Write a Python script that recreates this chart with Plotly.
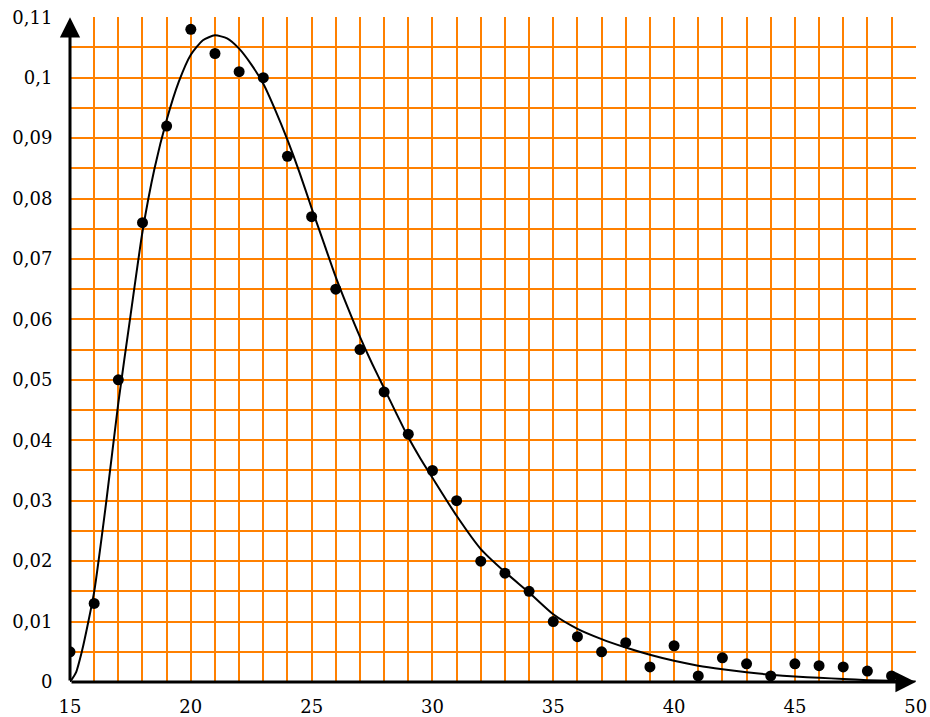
import plotly.graph_objects as go

# Observed points
obs_x = [15, 16, 17, 18, 19, 20, 21, 22, 23, 24, 25, 26, 27, 28, 29, 30, 31, 32,
         33, 34, 35, 36, 37, 38, 39, 40, 41, 42, 43, 44, 45, 46, 47, 48, 49]
obs_y = [0.005, 0.013, 0.050, 0.076, 0.092, 0.108, 0.104, 0.101, 0.100, 0.087,
         0.077, 0.065, 0.055, 0.048, 0.041, 0.035, 0.030, 0.020, 0.018, 0.015,
         0.010, 0.0075, 0.005, 0.0065, 0.0025, 0.006, 0.001, 0.004, 0.003, 0.001,
         0.003, 0.0027, 0.0025, 0.0018, 0.001]

# Fitted curve
curve_x = [15, 15.25, 15.5, 15.75, 16, 16.5, 17, 17.5, 18, 18.5, 19, 19.5, 20, 20.5,
           21, 21.5, 22, 22.5, 23, 23.5, 24, 24.5, 25, 25.5, 26, 26.5, 27, 27.5,
           28, 28.5, 29, 29.5, 30, 31, 32, 33, 34, 35, 36, 37, 38, 39, 40, 41, 42,
           43, 44, 45, 46, 47, 48, 49, 50]
curve_y = [0.0, 0.0016, 0.0052, 0.0098, 0.0149, 0.0298, 0.0462, 0.0605, 0.0745,
           0.0850, 0.0930, 0.0993, 0.1038, 0.1062, 0.1070, 0.1065, 0.1048, 0.1022,
           0.0990, 0.0946, 0.0897, 0.0843, 0.0784, 0.0727, 0.0670, 0.0619, 0.0571,
           0.0527, 0.0486, 0.0445, 0.0405, 0.0370, 0.0338, 0.0275, 0.0220, 0.0182,
           0.0148, 0.0112, 0.0088, 0.0071, 0.0057, 0.0045, 0.0035, 0.0027, 0.0021,
           0.0016, 0.0012, 0.0009, 0.0007, 0.0005, 0.0003, 0.0002, 0.0001]

x_tick_vals = [15, 20, 25, 30, 35, 40, 45, 50]
x_tick_text = ["15", "20", "25", "30", "35", "40", "45", "50"]
y_tick_vals = [0, 0.01, 0.02, 0.03, 0.04, 0.05, 0.06, 0.07, 0.08, 0.09, 0.10, 0.11]
y_tick_text = ["0", "0,01", "0,02", "0,03", "0,04", "0,05", "0,06", "0,07",
               "0,08", "0,09", "0,1", "0,11"]

ORANGE = "#ff8000"
X_MIN, X_MAX = 15, 50
Y_MIN, Y_MAX = 0, 0.11
X_PAD, Y_PAD = 0.012, 0.00004  # tiny padding so edge gridlines are drawn

fig = go.Figure()
fig.add_trace(go.Scatter(x=curve_x, y=curve_y, mode="lines",
                         line=dict(color="black", width=2, shape="spline", smoothing=0.6),
                         hoverinfo="skip"))
fig.add_trace(go.Scatter(x=obs_x, y=obs_y, mode="markers",
                         marker=dict(color="black", size=11)))

# Axis arrows
fig.add_annotation(x=X_MIN, y=Y_MAX, ax=X_MIN, ay=Y_MIN, xref="x", yref="y",
                   axref="x", ayref="y", text="", showarrow=True,
                   arrowhead=2, arrowsize=1.35, arrowwidth=3, arrowcolor="black")
fig.add_annotation(x=X_MAX, y=Y_MIN, ax=X_MIN, ay=Y_MIN, xref="x", yref="y",
                   axref="x", ayref="y", text="", showarrow=True,
                   arrowhead=2, arrowsize=1.35, arrowwidth=3, arrowcolor="black")

font = dict(family="DejaVu Serif", size=18, color="black")
fig.update_layout(
    width=930, height=717,
    margin=dict(l=70, r=14, t=17, b=35),
    paper_bgcolor="white", plot_bgcolor="white",
    showlegend=False,
    font=font,
    xaxis=dict(range=[X_MIN, X_MAX + X_PAD], tickmode="array", tickvals=x_tick_vals,
               ticktext=x_tick_text, showgrid=True, gridcolor=ORANGE, gridwidth=2,
               zeroline=False, showline=False, ticks="outside", ticklen=8,
               tickcolor="rgba(0,0,0,0)", tickfont=font, automargin=False,
               minor=dict(tick0=15, dtick=1, showgrid=True, gridcolor=ORANGE,
                          gridwidth=2, ticks="")),
    yaxis=dict(range=[Y_MIN, Y_MAX + Y_PAD], tickmode="array", tickvals=y_tick_vals,
               ticktext=y_tick_text, showgrid=True, gridcolor=ORANGE, gridwidth=2,
               zeroline=False, showline=False, ticks="outside", ticklen=13,
               tickcolor="rgba(0,0,0,0)", tickfont=font, automargin=False,
               minor=dict(tick0=0, dtick=0.005, showgrid=True, gridcolor=ORANGE,
                          gridwidth=2, ticks="")),
)

fig.write_html("out.html")
